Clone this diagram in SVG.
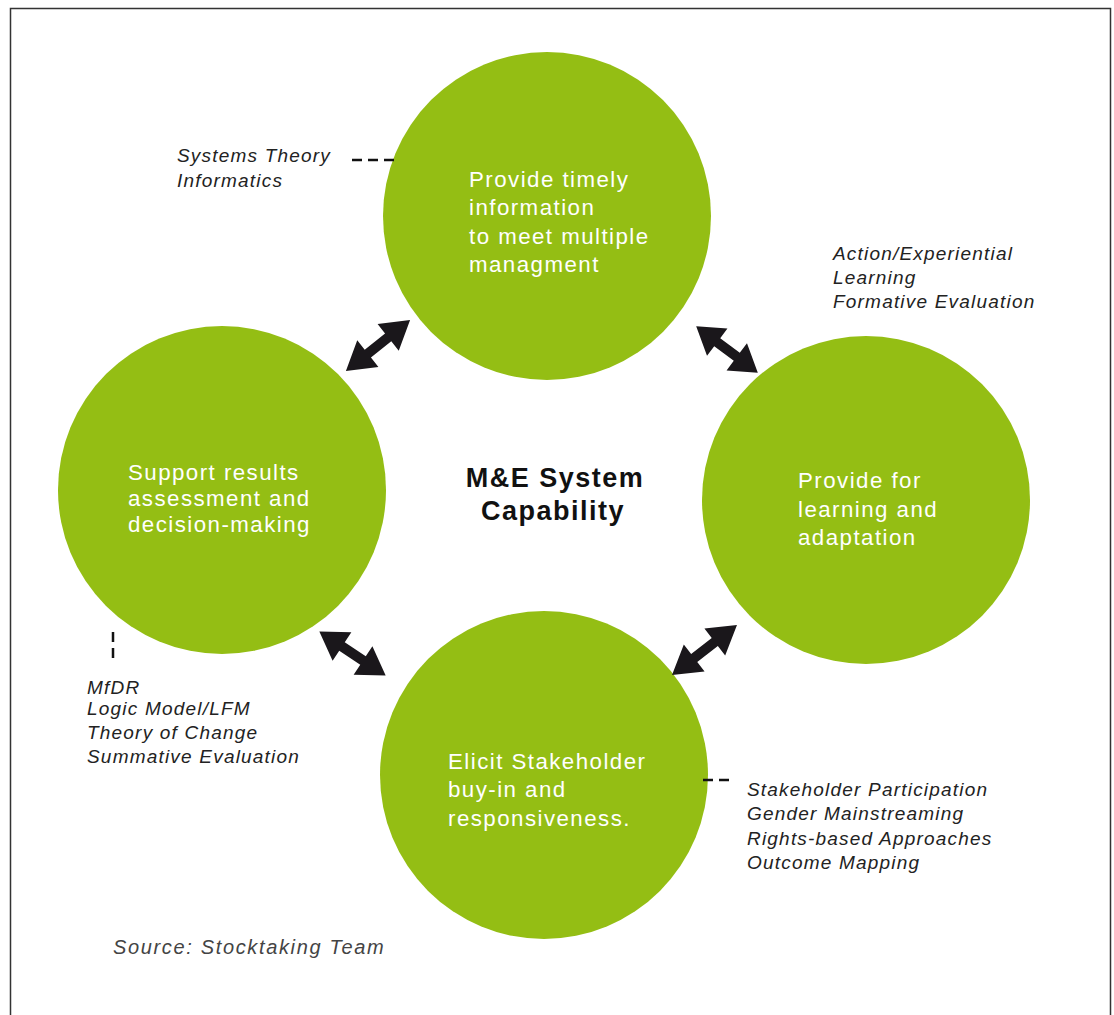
<svg xmlns="http://www.w3.org/2000/svg" width="1114" height="1015" viewBox="0 0 1114 1015">
<style>
.circ{fill:#94BE14}
.ct{font-family:"Liberation Sans",Arial,sans-serif;font-size:22.3px;fill:#ffffff;letter-spacing:1.45px}
.lb{font-family:"Liberation Sans",Arial,sans-serif;font-size:19px;font-style:italic;fill:#222222;letter-spacing:1.2px}
.dash{stroke:#111;stroke-width:2.5;stroke-dasharray:10,6;fill:none}
.title{font-family:"Liberation Sans",Arial,sans-serif;font-size:27px;font-weight:bold;fill:#111;letter-spacing:1.5px}
.src{font-family:"Liberation Sans",Arial,sans-serif;font-size:20px;font-style:italic;fill:#444;letter-spacing:1.65px}
</style>
<defs>
<path id="darr" d="M-41,0 L-13,-17 L-13,-5 L13,-5 L13,-17 L41,0 L13,17 L13,5 L-13,5 L-13,17 Z" fill="#1a171b"/>
</defs>
<rect x="0" y="0" width="1114" height="1015" fill="#ffffff"/>
<path d="M10.5,1015 V8.5 H1110.5 V1015" fill="none" stroke="#333" stroke-width="1.5"/>

<g id="node-top">
<circle class="circ" cx="547" cy="216" r="164"/>
<text class="ct" x="469" y="187">Provide timely</text>
<text class="ct" x="469" y="215">information</text>
<text class="ct" x="469" y="244">to meet multiple</text>
<text class="ct" x="469" y="272">managment</text>
</g>
<g id="node-left">
<circle class="circ" cx="222" cy="490" r="164"/>
<text class="ct" x="128" y="480">Support results</text>
<text class="ct" x="128" y="506">assessment and</text>
<text class="ct" x="128" y="532">decision-making</text>
</g>
<g id="node-right">
<circle class="circ" cx="866" cy="500" r="164"/>
<text class="ct" x="798" y="488">Provide for</text>
<text class="ct" x="798" y="517">learning and</text>
<text class="ct" x="798" y="545">adaptation</text>
</g>
<g id="node-bottom">
<circle class="circ" cx="544" cy="775" r="164"/>
<text class="ct" x="448" y="769">Elicit Stakeholder</text>
<text class="ct" x="448" y="797">buy-in and</text>
<text class="ct" x="448" y="826">responsiveness.</text>
</g>
<g id="center-title">
<text class="title" x="555" y="487" text-anchor="middle">M&amp;E System</text>
<text class="title" x="553" y="520" text-anchor="middle">Capability</text>
</g>

<g id="connectors">
<use href="#darr" transform="translate(378,345.5) rotate(-38.5)"/>
<use href="#darr" transform="translate(727,349.5) rotate(36.9) scale(0.94,1)"/>
<use href="#darr" transform="translate(352.5,653.5) rotate(33.5) scale(0.97,1)"/>
<use href="#darr" transform="translate(704.5,650) rotate(-37.6)"/>
<path class="dash" d="M352,160 H397"/>
<path class="dash" d="M113,632 V662"/>
<path class="dash" d="M703,780 H734"/>
</g>

<g id="label-systems">
<text class="lb" x="177" y="162">Systems Theory</text>
<text class="lb" x="177" y="187">Informatics</text>
</g>
<g id="label-action">
<text class="lb" x="833" y="260">Action/Experiential</text>
<text class="lb" x="833" y="284">Learning</text>
<text class="lb" x="833" y="308">Formative Evaluation</text>
</g>
<g id="label-mfdr">
<text class="lb" x="87" y="694">MfDR</text>
<text class="lb" x="87" y="715">Logic Model/LFM</text>
<text class="lb" x="87" y="739">Theory of Change</text>
<text class="lb" x="87" y="763">Summative Evaluation</text>
</g>
<g id="label-stakeholder">
<text class="lb" x="747" y="796">Stakeholder Participation</text>
<text class="lb" x="747" y="820">Gender Mainstreaming</text>
<text class="lb" x="747" y="845">Rights-based Approaches</text>
<text class="lb" x="747" y="869">Outcome Mapping</text>
</g>
<text class="src" x="113" y="954">Source: Stocktaking Team</text>
</svg>
